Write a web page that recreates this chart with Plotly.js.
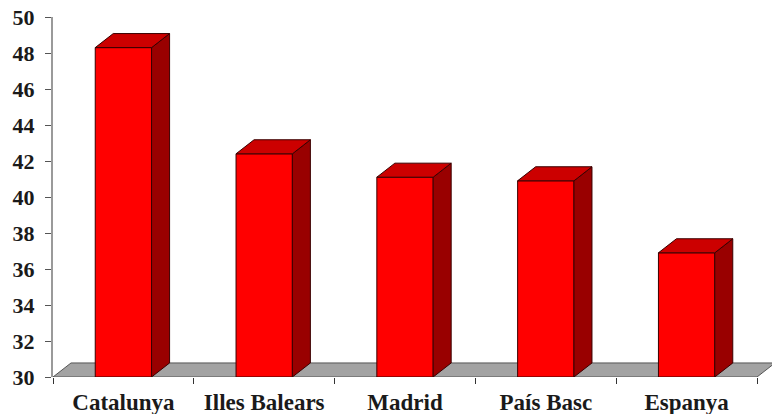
<!DOCTYPE html>
<html>
<head>
<meta charset="utf-8">
<script src="https://cdn.plot.ly/plotly-3.0.1.min.js"></script>
<style>html,body{margin:0;padding:0;background:#fff;}#chart{width:772px;height:414px;}</style>
</head>
<body>
<div id="chart"></div>
<script>
// Data
const categories = ['Catalunya', 'Illes Balears', 'Madrid', 'País Basc', 'Espanya'];
const values = [48.3, 42.4, 41.1, 40.9, 36.9];
const yTickValues = [30, 32, 34, 36, 38, 40, 42, 44, 46, 48, 50];
const baseValue = 30;

// Styling / 3D projection parameters
const BAR_W = 0.4;      // front face width in category units
const DX = 0.128;       // depth offset in category units
const DY = 0.78;        // depth offset in value units
const XFONT = {family: 'Liberation Serif, Times New Roman, serif', size: 23, color: '#1a1a1a', weight: 700};
const YFONT = {family: 'Liberation Serif, Times New Roman, serif', size: 22, color: '#1a1a1a', weight: 700};

const xPos = categories.map((c, i) => i);
const traces = [];

// Front faces (bars)
traces.push({
  type: 'bar', x: xPos, y: values.map(v => v - baseValue), base: baseValue,
  width: BAR_W,
  marker: {color: '#ff0000', line: {color: '#3a0000', width: 1}},
  hoverinfo: 'skip', showlegend: false
});

// Top and side faces
values.forEach((v, i) => {
  const xl = i - BAR_W / 2, xr = i + BAR_W / 2;
  traces.push({
    type: 'scatter', mode: 'lines', fill: 'toself', fillcolor: '#990000',
    x: [xr, xr, xr + DX, xr + DX, xr], y: [baseValue, v, v + DY, baseValue + DY, baseValue],
    line: {color: '#3a0000', width: 1}, hoverinfo: 'skip', showlegend: false
  });
  traces.push({
    type: 'scatter', mode: 'lines', fill: 'toself', fillcolor: '#cc0000',
    x: [xl, xr, xr + DX, xl + DX, xl], y: [v, v, v + DY, v + DY, v],
    line: {color: '#3a0000', width: 1}, hoverinfo: 'skip', showlegend: false
  });
});

const n = categories.length;
const boundaries = [];
for (let i = 0; i <= n; i++) boundaries.push(i - 0.5);

const layout = {
  width: 772, height: 414,
  margin: {l: 53, r: 0, t: 17, b: 37},
  paper_bgcolor: '#fff', plot_bgcolor: '#fff',
  showlegend: false,
  xaxis: {
    range: [-0.5, -0.5 + 719 / 140.8],
    tickmode: 'array', tickvals: xPos, ticktext: categories,
    ticks: '', showgrid: false, zeroline: false, showline: false,
    tickfont: XFONT, ticklabelstandoff: 9,
    minor: {tickmode: 'array', tickvals: boundaries, ticks: 'outside', ticklen: 6, tickwidth: 1, tickcolor: '#333', showgrid: false},
    fixedrange: true
  },
  yaxis: {
    range: [30, 50], tickmode: 'array', tickvals: yTickValues,
    ticks: 'outside', ticklen: 6, tickwidth: 1, tickcolor: '#555',
    showline: true, linecolor: '#9a9a9a', linewidth: 2,
    showgrid: false, zeroline: false, tickfont: YFONT, ticklabelstandoff: 6, fixedrange: true
  },
  shapes: [{
    type: 'path', layer: 'below', xref: 'x', yref: 'y',
    path: 'M ' + boundaries[0] + ',' + baseValue +
          ' L ' + boundaries[n] + ',' + baseValue +
          ' L ' + (boundaries[n] + DX) + ',' + (baseValue + DY) +
          ' L ' + (boundaries[0] + DX) + ',' + (baseValue + DY) + ' Z',
    fillcolor: '#a3a3a3', line: {color: '#555', width: 1}
  }]
};

Plotly.newPlot('chart', traces, layout, {displayModeBar: false, staticPlot: true});
</script>
</body>
</html>
